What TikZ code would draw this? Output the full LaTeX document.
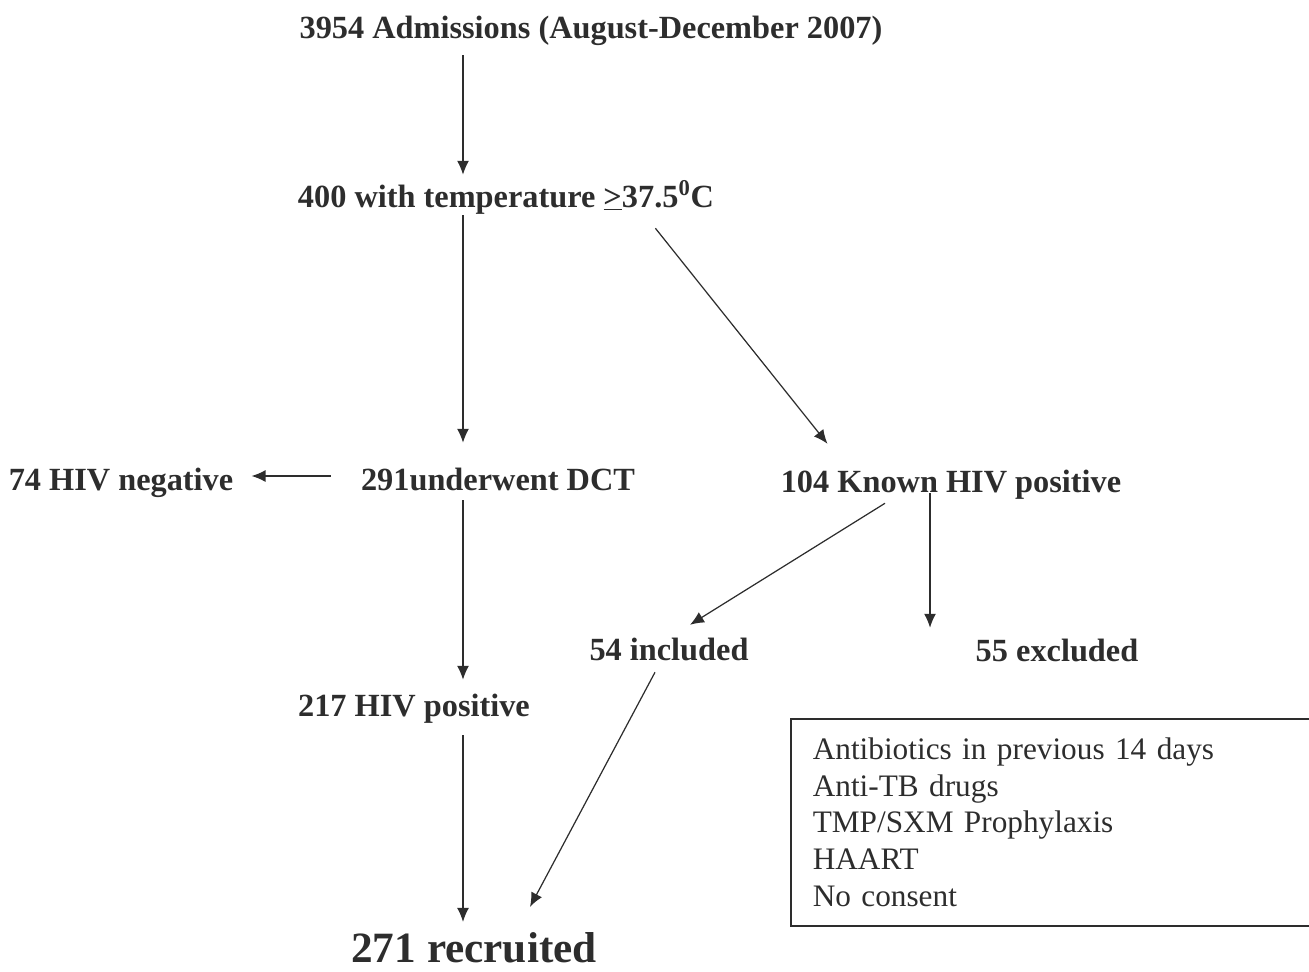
\documentclass[tikz,border=0pt]{standalone}
\usepackage{fontspec}
\setmainfont{Liberation Serif}
\usetikzlibrary{arrows.meta,calc}
\definecolor{mydarkgrey}{RGB}{45,45,45}
\tikzset{>={Latex[length=0.28cm,width=0.24cm]}}
\tikzset{
  step label/.style={font=\bfseries\fontsize{18.4}{21}\selectfont,text=mydarkgrey,
    inner sep=0pt,text height=13.6pt,text depth=4.5pt,anchor=base},
  big label/.style={step label,font=\bfseries\fontsize{24.6}{28}\selectfont,
    text height=18.1pt,text depth=6pt},
  flow/.style={->,draw=mydarkgrey,line width=0.7pt},
}
\begin{document}
\begin{tikzpicture}[x=0.02cm,y=-0.02cm]
  \useasboundingbox (0,0) rectangle (1309,971);

  % column of the main arrows
  \coordinate (col) at (463,0);

  % steps
  \node[step label] (adm)   at (591,38)  {3954 Admissions (August-December 2007)};
  \node[step label] (temp)  at (506,207) {400 with temperature \underline{>}37.5\textsuperscript{0}C};
  \node[step label] (dct)   at (498,490) {291underwent DCT};
  \node[step label] (neg)   at (121,490) {74 HIV negative};
  \node[step label] (known) at (951,492) {104 Known HIV positive};
  \node[step label] (incl)  at (669,660) {54 included};
  \node[step label] (excl)  at (1057,661) {55 excluded};
  \node[step label] (pos)   at (414,716) {217 HIV positive};
  \node[big label]  (rec)   at (474,962) {271 recruited};

  % reasons for exclusion
  \node[draw=mydarkgrey,line width=0.9pt,anchor=north west,align=left,text=mydarkgrey,
    minimum width=10.6cm,minimum height=4.14cm,text width=9.72cm,inner xsep=0.44cm,
    font=\fontsize{17.8}{21}\selectfont] (reasons) at (790,718)
    {Antibiotics in previous 14 days\\Anti-TB drugs\\TMP/SXM Prophylaxis\\HAART\\No consent};

  % arrows
  \draw[flow,shorten <=0.18cm,shorten >=0.16cm] (adm.south -| col) -- (temp.north -| col);
  \draw[flow,shorten >=0.46cm] (temp.south -| col) -- (dct.north -| col);
  \draw[flow] ($(temp.south east)+(-59,13)$) -- ($(known.north west)+(47,-24)$);
  \draw[flow,shorten <=0.6cm,shorten >=0.36cm] ([yshift=0.12cm]dct.west) -- ([yshift=0.12cm]neg.east);
  \draw[flow,shorten <=0.04cm,shorten >=0.24cm] (dct.south -| col) -- (pos.north -| col);
  \draw[flow] ($(known.south)+(-66,3)$) -- ($(incl.north)+(21,-11)$);
  \draw[flow] ($(known.south)+(-21,-7)$) -- ($(excl.north)+(-127,-9)$);
  \draw[flow,shorten <=0.22cm,shorten >=0.16cm] (pos.south -| col) -- (rec.north -| col);
  \draw[flow] ($(incl.south)+(-14,4)$) -- ($(rec.north)+(56,-23)$);

\end{tikzpicture}
\end{document}
